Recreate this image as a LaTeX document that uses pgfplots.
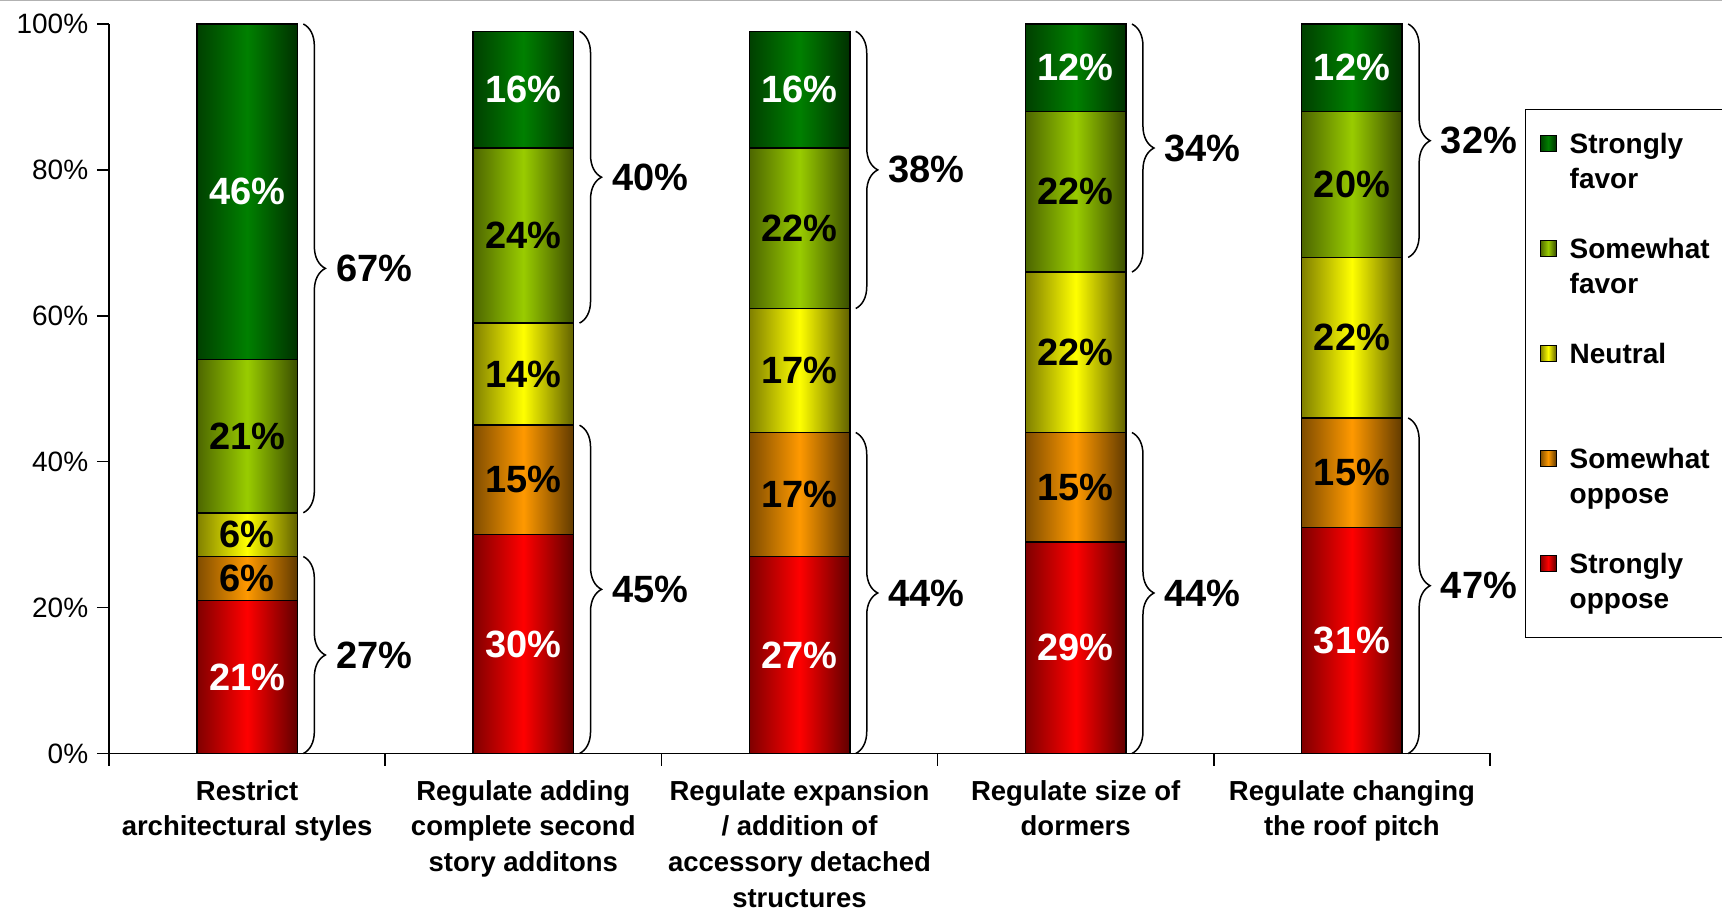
\documentclass[border=0pt]{standalone}
\usepackage{fontspec}
\setmainfont{Liberation Sans}
\usepackage{pgfplots}
\pgfplotsset{compat=1.18}
\usetikzlibrary{decorations.pathreplacing}

% bar colours (centre of the horizontal gradient)
\definecolor{sfC}{RGB}{0,128,0}
\definecolor{wfC}{RGB}{153,204,0}
\definecolor{neC}{RGB}{255,255,0}
\definecolor{woC}{RGB}{255,153,0}
\definecolor{soC}{RGB}{255,0,0}

\newcommand\ticfont{\fontsize{11.2}{13}\selectfont}
\newcommand\catfont{\fontsize{11}{14.3}\selectfont\bfseries}
\newcommand\valfont{\fontsize{15.2}{18}\selectfont\bfseries}
\newcommand\legfont{\fontsize{11.2}{14}\selectfont\bfseries}
\newcommand\legtwo[2]{\vtop{\hbox{\strut#1}\hbox{\strut#2}}}

\pgfplotsset{
  % common geometry of the stacked-bar layers
  chartframe/.style={
    at={(0pt,0pt)}, anchor=south west,
    scale only axis, width=552.4pt, height=291.8pt,
    ybar stacked, bar width=40.2pt,
    xmin=-0.5, xmax=4.5, ymin=0, ymax=100, clip=false,
    /pgf/number format/assume math mode=true,
  },
  % one segment: horizontal gradient, value label centred in the segment
  seg/.style n args={2}{
    draw=black, line width=0.6pt,
    left color=#1!50!black, right color=#1!38!black, middle color=#1,
    visualization depends on={rawy \as \segval},
    nodes near coords={\pgfmathprintnumber{\segval}\%},
    every node near coord/.style={font=\valfont, text=#2, anchor=center},
  },
}
\tikzset{
  grpbrace/.style={decorate, decoration={brace, amplitude=8.8pt}, line width=0.6pt},
  blab/.style={midway, anchor=west, xshift=12.8pt, font=\valfont, inner sep=0pt},
}
% x, strongly oppose, somewhat oppose, neutral, somewhat favor, strongly favor
\newcommand\stackbar[6]{%
  \addplot[seg={soC}{white}] coordinates {(#1,#2)};
  \addplot[seg={woC}{black}] coordinates {(#1,#3)};
  \addplot[seg={neC}{black}] coordinates {(#1,#4)};
  \addplot[seg={wfC}{black}] coordinates {(#1,#5)};
  \addplot[seg={sfC}{white}] coordinates {(#1,#6)};
}
\newcommand\groupbrace[4]{%
  \draw[grpbrace] ([xshift=22.5pt]axis cs:#1,#3) -- ([xshift=22.5pt]axis cs:#1,#2)
    node[blab] {#4\%};}

\begin{document}
\begin{tikzpicture}
\begin{axis}[
  chartframe,
  axis lines*=left, axis line style={line width=0.6pt},
  tick align=outside, major tick length=4.8pt,
  tick style={black, line width=0.6pt},
  xtick={-0.5,0.5,...,4.5}, xticklabels={},
  extra x ticks={0,1,2,3,4},
  extra x tick labels={{Restrict\\architectural styles},
    {Regulate adding\\complete second\\story additons},
    {Regulate expansion\\/ addition of\\accessory detached\\structures},
    {Regulate size of\\dormers},
    {Regulate changing\\the roof pitch}},
  extra x tick style={tick style={draw=none}},
  x tick label style={font=\catfont, align=center, anchor=north, yshift=-2.3pt},
  ytick={0,20,...,100},
  yticklabel={\pgfmathprintnumber{\tick}\%},
  y tick label style={font=\ticfont},
  reverse legend,
  legend image code/.code={\draw[#1, draw=black, line width=0.4pt] (0pt,0.8pt) rectangle (6.4pt,7.2pt);},
  legend style={at={(1.0253,0.8835)}, anchor=north west, draw=black, line width=0.6pt,
    fill=white, font=\legfont, inner xsep=5.6pt, inner ysep=7.6pt,
    nodes={inner sep=0pt, text height=9.8pt, text depth=18.2pt, anchor=base west},
    row sep=14pt, /tikz/every odd column/.append style={column sep=5.2pt}},
  legend cell align=left,
]
\stackbar{0}{21}{6}{6}{21}{46}
\legend{\legtwo{Strongly}{oppose}, \legtwo{Somewhat}{oppose}, \legtwo{Neutral}{},
  \legtwo{Somewhat}{favor}, \legtwo{Strongly}{favor}}

% favour (somewhat + strongly) and oppose (somewhat + strongly) groups
\groupbrace{0}{33}{100}{67}
\groupbrace{0}{0}{27}{27}
\groupbrace{1}{59}{99}{40}
\groupbrace{1}{0}{45}{45}
\groupbrace{2}{61}{99}{38}
\groupbrace{2}{0}{44}{44}
\groupbrace{3}{66}{100}{34}
\groupbrace{3}{0}{44}{44}
\groupbrace{4}{68}{100}{32}
\groupbrace{4}{0}{46}{47}
\end{axis}
% one layer per question, so that every bar gets its own gradient
\begin{axis}[chartframe, hide axis]
\stackbar{1}{30}{15}{14}{24}{16}
\end{axis}
\begin{axis}[chartframe, hide axis]
\stackbar{2}{27}{17}{17}{22}{16}
\end{axis}
\begin{axis}[chartframe, hide axis]
\stackbar{3}{29}{15}{22}{22}{12}
\end{axis}
\begin{axis}[chartframe, hide axis]
\stackbar{4}{31}{15}{22}{20}{12}
\end{axis}
\pgfresetboundingbox
\path[use as bounding box] (-43.6pt,-62.6pt) rectangle (645.2pt,301.4pt);
\draw[gray!60, line width=0.5pt] (-43.6pt,301.1pt) -- (645.2pt,301.1pt);
\end{tikzpicture}
\end{document}
